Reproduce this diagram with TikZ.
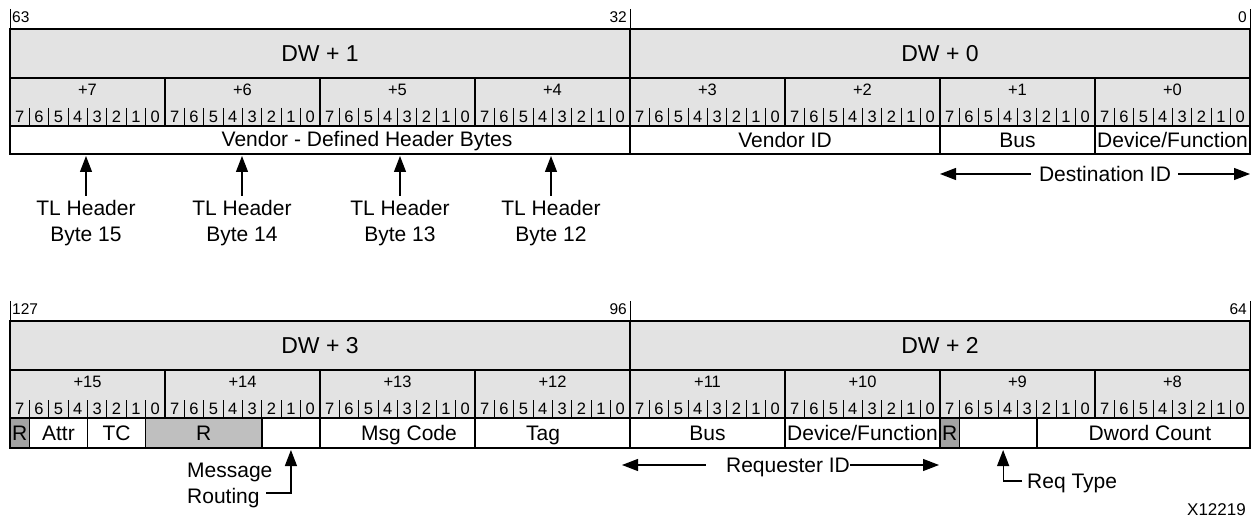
\documentclass[tikz,border=0pt]{standalone}
\usepackage{fontspec}
\setmainfont{Liberation Sans}
\usetikzlibrary{arrows.meta}
\definecolor{hdr}{HTML}{E3E3E3}
\definecolor{rdark}{HTML}{A3A3A3}
\definecolor{rmid}{HTML}{BFBFBF}
\tikzset{
  box/.style={draw, line width=1.5pt, inner sep=0pt, outer sep=0pt, anchor=north west},
  dwtxt/.style={font=\fontsize{23}{27}\selectfont},
  fldtxt/.style={font=\fontsize{21}{26}\selectfont},
  capc/.style={text height=15pt, text depth=0pt},
  bytetxt/.style={font=\fontsize{16.5}{19}\selectfont, inner sep=0pt},
  bittxt/.style={font=\fontsize{16.5}{19}\selectfont, inner sep=0pt},
  numtxt/.style={font=\fontsize{15.5}{18}\selectfont, inner sep=0pt},
  sepline/.style={line width=0.9pt},
  tickline/.style={line width=1pt},
  arr/.style={line width=1.2pt, -{Triangle[length=16pt,width=12pt]}},
}
\newcommand\fld[7]{\node[box, fill=#6, fldtxt, capc, minimum width={(#3-#2)*1pt}, minimum height={(#5-#4)*1pt}] (#1) at (#2,#4) {#7};}
% #1 prefix, #2 top y, #3 left DW label, #4 right DW label, #5 first byte number
\newcommand\dwgrid[5]{%
  \node[box, fill=hdr, dwtxt, minimum width=620pt, minimum height=49pt] (#1dwl) at (10,#2) {#3};
  \node[box, fill=hdr, dwtxt, minimum width=620pt, minimum height=49pt] (#1dwr) at (630,#2) {#4};
  \foreach \i in {0,...,7} {
    \pgfmathtruncatemacro\lab{#5-\i}
    \node[box, fill=hdr, minimum width=155pt, minimum height=48pt] (#1b\lab) at ({10+155*\i},{#2+49}) {};
    \node[bytetxt] (#1bl\lab) at ({87.5+155*\i},{#2+61}) {+\lab};
    \foreach \k in {0,...,7} {
      \pgfmathtruncatemacro\d{7-\k}
      \node[bittxt] (#1bit\lab-\d) at ({10+155*\i+19.375*(\k+0.5)},{#2+88}) {\d};
    }
    \foreach \k in {1,...,7} {
      \draw[sepline] ({10+155*\i+19.375*\k},{#2+79}) -- ({10+155*\i+19.375*\k},{#2+97});
    }
  }
}
\begin{document}
\begin{tikzpicture}[x=1pt, y=-1pt]
\useasboundingbox (0,0) rectangle (1258,521);

% ---------- top word ----------
\draw[tickline] (10,9) -- (10,29);
\draw[tickline] (630,9) -- (630,29);
\draw[tickline] (1250,9) -- (1250,29);
\node[numtxt, anchor=west] (n63) at (12,17) {63};
\node[numtxt, anchor=east] (n32) at (627,17) {32};
\node[numtxt, anchor=east] (n0) at (1247,17) {0};

\dwgrid{t}{29}{DW + 1}{DW + 0}{7}

\fld{vdh}{10}{630}{126}{154}{white}{}
\node[fldtxt, capc, inner sep=0pt] (vdht) at (367,139) {Vendor - Defined Header Bytes};
\fld{vid}{630}{940}{126}{154}{white}{Vendor ID}
\fld{dbus}{940}{1095}{126}{154}{white}{Bus}
\fld{ddf}{1095}{1250}{126}{154}{white}{Device/Function}

\foreach \x/\n in {86/15,242/14,400/13,551/12} {
  \node[fldtxt, align=center, anchor=north, inner sep=0pt] (tl\n) at (\x,200) {TL Header\\Byte \n};
  \draw[arr, shorten >=2pt] ([yshift=4pt]tl\n.north) -- (tl\n.north |- vdh.south);
}

\node[fldtxt, capc, inner sep=0pt] (dest) at (1105,174) {Destination ID};
\draw[arr] ([xshift=-8pt]dest.west) -- (dest.west -| dbus.west);
\draw[arr] ([xshift=7pt]dest.east) -- (dest.east -| ddf.east);

% ---------- bottom word ----------
\draw[tickline] (10,301) -- (10,321);
\draw[tickline] (630,301) -- (630,321);
\draw[tickline] (1250,301) -- (1250,321);
\node[numtxt, anchor=west] (n127) at (12,309) {127};
\node[numtxt, anchor=east] (n96) at (627,309) {96};
\node[numtxt, anchor=east] (n64) at (1247,309) {64};

\dwgrid{b}{321}{DW + 3}{DW + 2}{15}

\fld{ra}{10}{29.375}{418}{448}{rdark}{R}
\fld{attr}{29.375}{87.5}{418}{448}{white}{Attr}
\fld{tc}{87.5}{145.625}{418}{448}{white}{TC}
\fld{rb}{145.625}{261.875}{418}{448}{rmid}{R}
\fld{mr}{261.875}{320}{418}{448}{white}{}
\fld{msg}{320}{475}{418}{448}{white}{}
\node[fldtxt, capc, inner sep=0pt] (msgt) at (409,433) {Msg Code};
\fld{tag}{475}{630}{418}{448}{white}{}
\node[fldtxt, capc, inner sep=0pt] (tagt) at (543,433) {Tag};
\fld{rbus}{630}{785}{418}{448}{white}{Bus}
\fld{rdf}{785}{940}{418}{448}{white}{Device/Function}
\fld{rc}{940}{959.375}{418}{448}{rdark}{R}
\fld{rt}{959.375}{1036.875}{418}{448}{white}{}
\fld{dwc}{1036.875}{1250}{418}{448}{white}{}
\node[fldtxt, capc, inner sep=0pt] (dwct) at (1150,433) {Dword Count};

\node[fldtxt, align=left, anchor=north west, inner sep=0pt] (mrt) at (187,463) {Message\\Routing};
\coordinate (mrc) at (266,493);
\draw[arr, shorten >=2pt] (mrc) -| (mr.south);

\node[fldtxt, capc, inner sep=0pt] (req) at (788,465) {Requester ID};
\draw[arr] ([xshift=-20pt]req.west) -- ([xshift=-8pt]req.west -| rbus.west);
\draw[arr] (req.east) -- ([xshift=-1pt]req.east -| rdf.east);

\node[fldtxt, capc, anchor=west, inner sep=0pt] (rqt) at (1027,481) {Req Type};
\draw[arr, shorten >=2pt] ([xshift=-5pt]rqt.west) -| ([xshift=5pt]rt.south);

\node[numtxt, anchor=east, font=\fontsize{17}{20}\selectfont] (xid) at (1246,510) {X12219};
\end{tikzpicture}
\end{document}
